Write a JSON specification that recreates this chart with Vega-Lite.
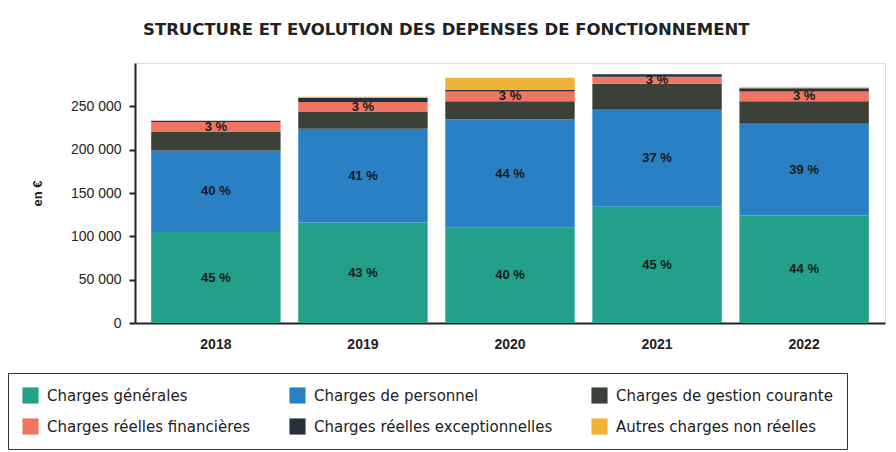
{
  "$schema": "https://vega.github.io/schema/vega-lite/v6.json",
  "width": 750,
  "height": 260,
  "autosize": {"type": "none"},
  "padding": {"left": 135, "top": 63, "right": 11, "bottom": 129},
  "background": "white",
  "config": {"legend": {"gridAlign": "none"}},
  "title": {
    "text": "STRUCTURE ET EVOLUTION DES DEPENSES DE FONCTIONNEMENT",
    "anchor": "start",
    "frame": "group",
    "dx": 8,
    "offset": 25,
    "font": "DejaVu Sans",
    "fontSize": 16.5,
    "fontWeight": "bold",
    "color": "#222"
  },
  "data": {
    "values": [
      {"year": "2018", "category": "Charges générales", "order": 1, "value": 105000, "label": "45 %"},
      {"year": "2018", "category": "Charges de personnel", "order": 2, "value": 94000, "label": "40 %"},
      {"year": "2018", "category": "Charges de gestion courante", "order": 3, "value": 22000, "label": ""},
      {"year": "2018", "category": "Charges réelles financières", "order": 4, "value": 11000, "label": "3 %"},
      {"year": "2018", "category": "Charges réelles exceptionnelles", "order": 5, "value": 1500, "label": ""},
      {"year": "2018", "category": "Autres charges non réelles", "order": 6, "value": 0, "label": ""},
      {"year": "2019", "category": "Charges générales", "order": 1, "value": 116000, "label": "43 %"},
      {"year": "2019", "category": "Charges de personnel", "order": 2, "value": 108000, "label": "41 %"},
      {"year": "2019", "category": "Charges de gestion courante", "order": 3, "value": 20000, "label": ""},
      {"year": "2019", "category": "Charges réelles financières", "order": 4, "value": 11000, "label": "3 %"},
      {"year": "2019", "category": "Charges réelles exceptionnelles", "order": 5, "value": 5000, "label": ""},
      {"year": "2019", "category": "Autres charges non réelles", "order": 6, "value": 1000, "label": ""},
      {"year": "2020", "category": "Charges générales", "order": 1, "value": 110000, "label": "40 %"},
      {"year": "2020", "category": "Charges de personnel", "order": 2, "value": 125000, "label": "44 %"},
      {"year": "2020", "category": "Charges de gestion courante", "order": 3, "value": 21000, "label": ""},
      {"year": "2020", "category": "Charges réelles financières", "order": 4, "value": 11000, "label": "3 %"},
      {"year": "2020", "category": "Charges réelles exceptionnelles", "order": 5, "value": 2000, "label": ""},
      {"year": "2020", "category": "Autres charges non réelles", "order": 6, "value": 14000, "label": ""},
      {"year": "2021", "category": "Charges générales", "order": 1, "value": 134000, "label": "45 %"},
      {"year": "2021", "category": "Charges de personnel", "order": 2, "value": 112000, "label": "37 %"},
      {"year": "2021", "category": "Charges de gestion courante", "order": 3, "value": 30000, "label": ""},
      {"year": "2021", "category": "Charges réelles financières", "order": 4, "value": 8000, "label": "3 %"},
      {"year": "2021", "category": "Charges réelles exceptionnelles", "order": 5, "value": 3000, "label": ""},
      {"year": "2021", "category": "Autres charges non réelles", "order": 6, "value": 0, "label": ""},
      {"year": "2022", "category": "Charges générales", "order": 1, "value": 124000, "label": "44 %"},
      {"year": "2022", "category": "Charges de personnel", "order": 2, "value": 106000, "label": "39 %"},
      {"year": "2022", "category": "Charges de gestion courante", "order": 3, "value": 26000, "label": ""},
      {"year": "2022", "category": "Charges réelles financières", "order": 4, "value": 11000, "label": "3 %"},
      {"year": "2022", "category": "Charges réelles exceptionnelles", "order": 5, "value": 4000, "label": ""},
      {"year": "2022", "category": "Autres charges non réelles", "order": 6, "value": 1000, "label": ""}
    ]
  },
  "encoding": {
    "x": {
      "field": "year",
      "type": "nominal",
      "scale": {"paddingInner": 0.12, "paddingOuter": 0.11},
      "axis": {
        "title": null,
        "labelAngle": 0,
        "ticks": false,
        "labelPadding": 14,
        "labelFont": "Liberation Sans",
        "labelFontSize": 14,
        "labelFontWeight": "bold",
        "labelColor": "#222",
        "domainColor": "#222",
        "domainWidth": 2
      }
    }
  },
  "layer": [
    {
      "mark": {"type": "bar"},
      "encoding": {
        "y": {
          "field": "value",
          "type": "quantitative",
          "stack": "zero",
          "scale": {"domain": [0, 300000], "nice": false},
          "axis": {
            "title": "en €",
            "titleFont": "Liberation Sans",
            "titleFontSize": 13,
            "titleFontWeight": "bold",
            "titleColor": "#222",
            "titlePadding": 26,
            "values": [0, 50000, 100000, 150000, 200000, 250000],
            "labelExpr": "replace(format(datum.value, ','), ',', ' ')",
            "labelFont": "Liberation Sans",
            "labelFontSize": 14,
            "labelColor": "#222",
            "labelPadding": 8,
            "grid": false,
            "tickColor": "#222",
            "tickSize": 6,
            "tickWidth": 2,
            "domainColor": "#222",
            "domainWidth": 2
          }
        },
        "color": {
          "field": "category",
          "type": "nominal",
          "scale": {
            "domain": ["Charges générales", "Charges de personnel", "Charges de gestion courante", "Charges réelles financières", "Charges réelles exceptionnelles", "Autres charges non réelles"],
            "range": ["#22a08a", "#2a80c4", "#3b4138", "#ef7560", "#26303e", "#f0b235"]
          },
          "legend": {
            "title": null,
            "orient": "none",
            "legendX": -127,
            "legendY": 310,
            "direction": "horizontal",
            "columns": 3,
            "gridAlign": "none",
            "columnPadding": 38,
            "rowPadding": 14,
            "padding": 14,
            "strokeColor": "#333",
            "symbolType": "square",
            "symbolSize": 260,
            "symbolStrokeWidth": 0,
            "symbolOpacity": 1,
            "labelFont": "DejaVu Sans",
            "labelFontSize": 15,
            "labelColor": "#222",
            "labelOffset": 8,
            "labelLimit": 400
          }
        },
        "order": {"field": "order", "type": "quantitative"}
      }
    },
    {
      "transform": [
        {"stack": "value", "groupby": ["year"], "sort": [{"field": "order"}], "as": ["y0", "y1"]},
        {"calculate": "(datum.y0 + datum.y1) / 2", "as": "mid"},
        {"filter": "datum.label != ''"}
      ],
      "mark": {"type": "text", "font": "Liberation Sans", "fontSize": 13, "fontWeight": "bold", "color": "#1a1a1a"},
      "encoding": {
        "y": {"field": "mid", "type": "quantitative"},
        "text": {"field": "label", "type": "nominal"}
      }
    }
  ]
}
